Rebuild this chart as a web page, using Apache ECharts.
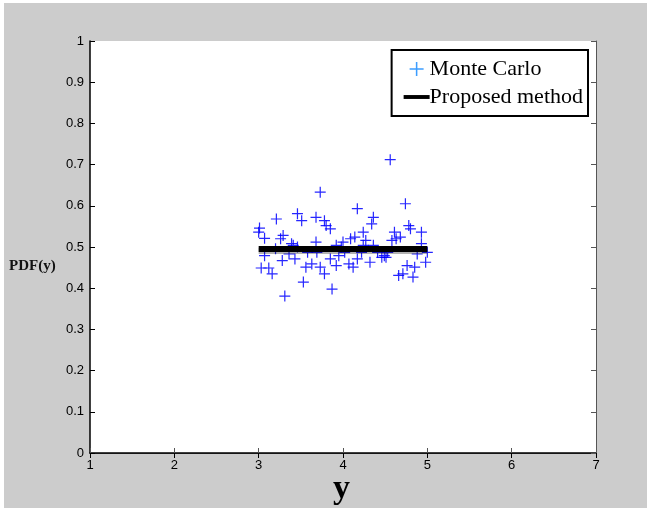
<!DOCTYPE html>
<html>
<head>
<meta charset="utf-8">
<script src="https://cdn.jsdelivr.net/npm/echarts@6/dist/echarts.min.js"></script>
<style>
  html, body { margin: 0; padding: 0; background: #fff; }
  #main { width: 647px; height: 508px; }
</style>
</head>
<body>
<div id="main"></div>
<script>
// Monte Carlo samples (y, PDF(y))
var mcX = [3.01, 3.0, 3.03, 3.07, 3.07, 3.12, 3.16, 3.21, 3.2, 3.26, 3.29, 3.28, 3.31, 3.36,
  3.41, 3.43, 3.46, 3.51, 3.53, 3.56, 3.58, 3.63, 3.68, 3.68, 3.69, 3.73, 3.73, 3.78, 3.8,
  3.78, 3.85, 3.85, 3.87, 3.92, 3.92, 3.95, 4.0, 4.02, 4.07, 4.09, 4.12, 4.14, 4.17, 4.17,
  4.22, 4.24, 4.27, 4.32, 4.34, 4.36, 4.36, 4.41, 4.46, 4.51, 4.56, 4.58, 4.61, 4.63, 4.66,
  4.68, 4.71, 4.74, 4.76, 4.78, 4.8, 4.83, 4.85, 4.88, 4.93, 4.93, 4.98, 5.0,
  3.39, 3.46, 3.98, 4.24, 4.53, 4.49];
var mcY = [0.546, 0.536, 0.449, 0.521, 0.479, 0.449, 0.435, 0.568, 0.496, 0.52, 0.528, 0.467,
  0.381, 0.483, 0.504, 0.471, 0.581, 0.564, 0.415, 0.451, 0.487, 0.459, 0.572, 0.512, 0.487,
  0.633, 0.451, 0.564, 0.552, 0.435, 0.544, 0.471, 0.398, 0.504, 0.455, 0.479, 0.512, 0.487,
  0.459, 0.52, 0.451, 0.524, 0.593, 0.471, 0.487, 0.536, 0.516, 0.463, 0.556, 0.572, 0.504,
  0.487, 0.475, 0.475, 0.712, 0.516, 0.536, 0.52, 0.431, 0.524, 0.435, 0.605, 0.455, 0.552,
  0.544, 0.427, 0.451, 0.483, 0.536, 0.508, 0.463, 0.487,
  0.508, 0.5, 0.5, 0.504, 0.487, 0.479];
// proposed method: flat PDF
var propX = [3, 5];
var propY = [0.495, 0.495];

var xTicks = [1, 7, 1];   // min, max, step
var yTicks = [0, 1, 0.1];

var plusPath = 'path://M4.45,0h1.1v10h-1.1zM0,4.45h10v1.1h-10z';
var linePath = 'path://M0,3.5h20v3h-20z';

var mcData = [];
mcX.forEach(function (x, i) { mcData.push([x, mcY[i]]); });
var propData = [];
propX.forEach(function (x, i) { propData.push([x, propY[i]]); });

var myChart = echarts.init(document.getElementById('main'));
var tickLabel = { color: '#000', fontFamily: 'Liberation Sans, Arial', fontSize: 13, margin: 6 };
var option = {
  backgroundColor: '#fff',
  animation: false,
  graphic: [
    { type: 'rect', z: -10, shape: { x: 4, y: 3, width: 643, height: 505 }, style: { fill: '#cccccc' } },
    { type: 'text', left: 9, top: 259, style: { text: 'PDF(y)', font: 'bold 15px "Liberation Serif", serif', fill: '#111' } },
    { type: 'text', left: 333, top: 472, style: { text: 'y', font: 'bold 34px "Liberation Serif", serif', fill: '#000' } }
  ],
  grid: { left: 90, right: 51, top: 41, bottom: 55, show: true, backgroundColor: '#fff', borderWidth: 0 },
  legend: {
    orient: 'vertical',
    right: 59, top: 50,
    backgroundColor: '#fff',
    borderColor: '#000', borderWidth: 2, borderRadius: 0,
    padding: [8, 5, 8, 12],
    itemGap: 6, itemWidth: 26, itemHeight: 14,
    textStyle: { fontFamily: '"Liberation Serif", serif', fontSize: 22, color: '#000', padding: [0, 0, 0, -5] },
    data: [
      { name: 'Monte Carlo', icon: plusPath, itemStyle: { color: '#1a8cff' } },
      { name: 'Proposed method', icon: linePath, itemStyle: { color: '#000' } }
    ]
  },
  xAxis: [
    {
      type: 'value', min: xTicks[0], max: xTicks[1], interval: xTicks[2],
      axisLine: { lineStyle: { color: '#555', width: 1 } },
      axisTick: { inside: true, length: 5, lineStyle: { color: '#555' } },
      axisLabel: tickLabel, splitLine: { show: false }
    },
    {
      type: 'value', position: 'top', min: xTicks[0], max: xTicks[1], interval: xTicks[2],
      axisLine: { lineStyle: { color: '#000', width: 1.5 } },
      axisTick: { inside: true, length: 5, lineStyle: { color: '#000' } },
      axisLabel: { show: false }, splitLine: { show: false }
    }
  ],
  yAxis: [
    {
      type: 'value', min: yTicks[0], max: yTicks[1], interval: yTicks[2],
      axisLine: { lineStyle: { color: '#000', width: 1.5 } },
      axisTick: { inside: true, length: 5, lineStyle: { color: '#000' } },
      axisLabel: Object.assign({}, tickLabel, {
        formatter: function (v) { return String(Math.round(v * 10) / 10); }
      }),
      splitLine: { show: false }
    },
    {
      type: 'value', position: 'right', min: yTicks[0], max: yTicks[1], interval: yTicks[2],
      axisLine: { lineStyle: { color: '#555', width: 1 } },
      axisTick: { inside: true, length: 5, lineStyle: { color: '#555' } },
      axisLabel: { show: false }, splitLine: { show: false }
    }
  ],
  series: [
    {
      name: 'Monte Carlo', type: 'scatter', data: mcData,
      symbol: plusPath, symbolSize: 11,
      itemStyle: { color: '#0000ff', opacity: 0.85 }
    },
    {
      name: 'Proposed method', type: 'line', data: propData,
      showSymbol: false, symbol: 'none',
      lineStyle: { color: '#000', width: 6, shadowColor: 'rgba(0,0,0,0.3)', shadowOffsetY: 2, shadowBlur: 0 },
      itemStyle: { color: '#000' }, z: 3
    }
  ]
};
myChart.setOption(option);
</script>
</body>
</html>
